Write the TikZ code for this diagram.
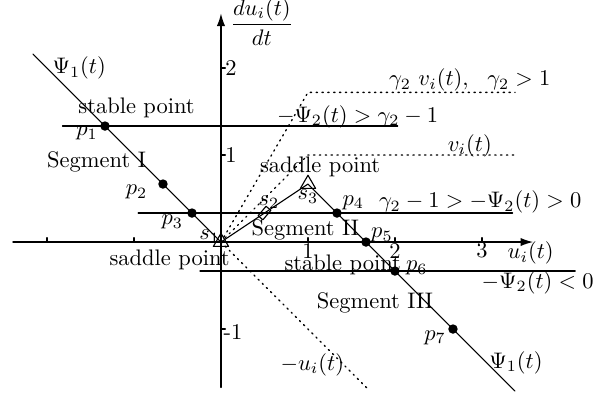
\documentclass[tikz,border=0pt]{standalone}
\usepackage{amsmath,amssymb}
\usepackage{tikz}
\usetikzlibrary{arrows.meta,shapes.geometric}
\tikzset{
  ph diagram/.style={line cap=round, line join=round},
  ph axis/.style={-{Latex[length=2mm,width=1.3mm]}, line width=0.7pt},
  ph tick/.style={line width=0.6pt},
  ph curve/.style={line width=0.5pt},
  ph level/.style={line width=0.7pt},
  ph guide/.style={dotted, line width=0.6pt},
  ph dot/.style={circle, fill, inner sep=0pt, minimum size=4.2pt},
  ph saddle/.style={regular polygon, regular polygon sides=3, draw,
    inner sep=0pt, minimum size=7.8pt, line width=0.5pt},
  ph mid/.style={rectangle, draw, inner sep=0pt, minimum width=5.5pt,
    minimum height=2.8pt, rotate=50, line width=0.5pt},
  ph label/.style={inner sep=1pt}
}

\begin{document}
\begin{tikzpicture}[ph diagram,x=1.36cm,y=1.36cm]
\useasboundingbox (-2.54,-1.747) rectangle (4.46,2.782);
% axes
\draw[ph axis] (-2.39,0) -- (3.59,0);
\draw[ph axis] (0,-1.67) -- (0,2.63);
\foreach \x in {-2,-1,1,2,3}
  \draw[ph tick] (\x,0) -- (\x,0.05);
\foreach \x in {1,2,3}
  \node[ph label] (xtick\x) at (\x,-0.1) {\x};
\foreach \y in {-1,1,2}
  \draw[ph tick] (0,\y) -- (0.05,\y);
\node[ph label,anchor=west] (ytick2) at (0.02,2) {2};
\node[ph label,anchor=west] (ytick1) at (0.02,1) {1};
\node[ph label,anchor=west] (ytickm1) at (0.0,-1.03) {-1};
\node[ph label] (xname) at (3.56,-0.13) {$u_i(t)$};
\node[ph label] (yname) at (0.47,2.53) {$\dfrac{du_i(t)}{dt}$};
% points on Psi_1
\coordinate (psiStart) at (-2.16,2.16);
\coordinate (p1) at (-1.3333,1.3333);
\coordinate (p2) at (-0.6667,0.6667);
\coordinate (p3) at (-0.3333,0.3333);
\coordinate (s1) at (0,0);
\coordinate (s2) at (0.5,0.3333);
\coordinate (s3) at (1,0.6667);
\coordinate (p4) at (1.3333,0.3333);
\coordinate (p5) at (1.6667,0);
\coordinate (p6) at (2,-0.3333);
\coordinate (p7) at (2.6667,-1);
\coordinate (psiEnd) at (3.38,-1.7133);
% levels of -Psi_2
\draw[ph level] (-1.82,1.3333) -- (2.03,1.3333);
\draw[ph level] (-0.95,0.3333) -- (3.35,0.3333);
\draw[ph level] (-0.24,-0.3333) -- (4.07,-0.3333);
% guides
\draw[ph guide] (s1) -- (1,1.72) -- (3.38,1.72);
\draw[ph guide] (s1) -- (1,1) -- (3.38,1);
\draw[ph guide] (s1) -- (1.69,-1.69);
% Psi_1
\draw[ph curve] (psiStart) -- (s1) -- (s3) -- (psiEnd);
\foreach \p in {p1,p2,p3,p4,p5,p6,p7}
  \node[ph dot] (\p dot) at (\p) {};
\node[ph saddle] (s1mark) at (s1) {};
\node[ph saddle] (s3mark) at (s3) {};
\node[ph mid] (s2mark) at (s2) {};
% labels
\node[ph label] (psiTop) at (-1.63,2.0) {$\Psi_1(t)$};
\node[ph label] (psiBottom) at (3.39,-1.39) {$\Psi_1(t)$};
\node[ph label] (stableTop) at (-0.97,1.54) {stable point};
\node[ph label] (segOne) at (-1.43,0.92) {Segment I};
\node[ph label] (segTwo) at (0.97,0.14) {Segment II};
\node[ph label] (segThree) at (1.77,-0.70) {Segment III};
\node[ph label] (saddleTop) at (1.14,0.86) {saddle point};
\node[ph label] (saddleLow) at (-0.59,-0.21) {saddle point};
\node[ph label] (stableLow) at (1.40,-0.26) {stable point};
\node[ph label] (p1name) at (-1.54,1.25) {$p_1$};
\node[ph label] (p2name) at (-0.97,0.575) {$p_2$};
\node[ph label] (p3name) at (-0.56,0.23) {$p_3$};
\node[ph label] (p4name) at (1.52,0.45) {$p_4$};
\node[ph label] (p5name) at (1.85,0.08) {$p_5$};
\node[ph label] (p6name) at (2.25,-0.30) {$p_6$};
\node[ph label] (p7name) at (2.46,-1.10) {$p_7$};
\node[ph label] (s1name) at (-0.13,0.06) {$s_1$};
\node[ph label] (s2name) at (0.55,0.46) {$s_2$};
\node[ph label] (s3name) at (1.0,0.52) {$s_3$};
\node[ph label] (levelTop) at (1.57,1.44) {$-\Psi_2(t) > \gamma_2 - 1$};
\node[ph label] (levelMid) at (2.98,0.46) {$\gamma_2 - 1 > -\Psi_2(t) > 0$};
\node[ph label] (levelLow) at (3.64,-0.47) {$-\Psi_2(t) < 0$};
\node[ph label] (gammaName) at (2.86,1.86) {$\gamma_2~v_i(t),~~\gamma_2 > 1$};
\node[ph label] (vName) at (2.86,1.11) {$v_i(t)$};
\node[ph label] (minusU) at (1.05,-1.41) {$-u_i(t)$};
\end{tikzpicture}
\end{document}
